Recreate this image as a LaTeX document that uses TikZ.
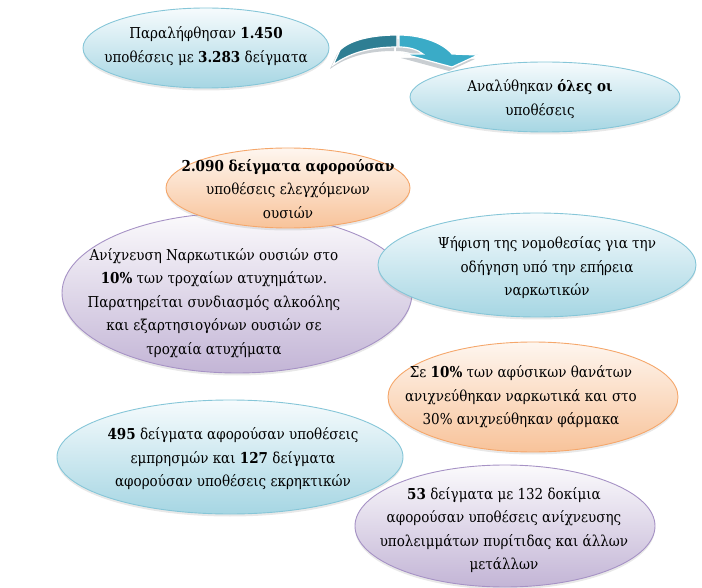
\documentclass[tikz,border=0pt]{standalone}
\usepackage{fontspec}
\setmainfont{DejaVu Serif}[FakeStretch=0.9]
\usetikzlibrary{shapes.geometric,shadows}
\definecolor{cBlueLine}{HTML}{86C6D8}
\definecolor{cBlueTop}{HTML}{F6FBFD}
\definecolor{cBlueMid}{HTML}{DDEFF5}
\definecolor{cBlueBot}{HTML}{A6D6E3}
\definecolor{cOrLine}{HTML}{F5A76B}
\definecolor{cOrTop}{HTML}{FEF6EF}
\definecolor{cOrMid}{HTML}{FCE0CA}
\definecolor{cOrBot}{HTML}{F8C39A}
\definecolor{cPuLine}{HTML}{A692C5}
\definecolor{cPuTop}{HTML}{FBFAFC}
\definecolor{cPuMid}{HTML}{E6E0EE}
\definecolor{cPuBot}{HTML}{C3B5D6}
\definecolor{cArDark}{HTML}{2E7E93}
\definecolor{cArLight}{HTML}{3AABC7}
\definecolor{cArShadow}{HTML}{C9CED2}
\tikzset{
  bub/.style={ellipse, inner sep=0pt, line width=0.9pt,
    drop shadow={shadow xshift=0pt, shadow yshift=-2.5pt, opacity=.18}},
  bblue/.style={bub, draw=cBlueLine, top color=cBlueTop, middle color=cBlueMid, bottom color=cBlueBot},
  borange/.style={bub, draw=cOrLine, top color=cOrTop, middle color=cOrMid, bottom color=cOrBot},
  bpurple/.style={bub, draw=cPuLine, top color=cPuTop, middle color=cPuMid, bottom color=cPuBot},
  txt/.style={align=center, inner sep=0pt, text=black, font=\fontsize{15}{23.5}\selectfont}
}
\begin{document}
\begin{tikzpicture}[x=1pt,y=-1pt]
\useasboundingbox (0,0) rectangle (702,588);
% big ellipses in drawing order
\node[bpurple, minimum width=350pt, minimum height=160pt] (p4) at (237,293) {};
\node[borange, minimum width=244pt, minimum height=80pt] (o3) at (288,188) {};
\node[bblue, minimum width=318pt, minimum height=104pt] (b5) at (537,265) {};
\node[bblue, minimum width=246pt, minimum height=80pt] (b1) at (206,48) {};
\node[bblue, minimum width=270pt, minimum height=70pt] (b2) at (545,97) {};
\node[borange, minimum width=290pt, minimum height=110pt] (o6) at (533,397) {};
\node[bblue, minimum width=346pt, minimum height=114pt] (b7) at (230,457) {};
\node[bpurple, minimum width=300pt, minimum height=122pt] (p8) at (505,526) {};
% curved arrow
\begin{scope}[xshift=-3pt, yshift=-4pt]
\fill[cArShadow] (333,65) .. controls (352,51) and (375,47) .. (397,47)
  -- (397,35) .. controls (372,35) and (350,40) .. (340,50) -- cycle;
\fill[cArShadow] (399,47) .. controls (410,47) and (418,50) .. (423,54)
  -- (404,54) -- (452,67) -- (478,55) -- (452,54)
  .. controls (442,42) and (420,35) .. (399,35) -- cycle;
\end{scope}
\filldraw[fill=cArDark, draw=white, line width=1.2pt] (333,65) .. controls (352,51) and (375,47) .. (397,47)
  -- (397,35) .. controls (372,35) and (350,40) .. (340,50) -- cycle;
\filldraw[fill=cArLight, draw=white, line width=1.2pt] (399,47) .. controls (410,47) and (418,50) .. (423,54)
  -- (404,54) -- (452,67) -- (478,55) -- (452,54)
  .. controls (442,42) and (420,35) .. (399,35) -- cycle;
% texts
\node[txt] (t1) at (206,46) {Παραλήφθησαν \textbf{1.450}\\υποθέσεις με \textbf{3.283} δείγματα};
\node[txt] (t2) at (540,99) {Αναλύθηκαν \textbf{όλες οι}\\υποθέσεις};
\node[txt] (t3) at (288,189) {\textbf{2.090 δείγματα αφορούσαν}\\υποθέσεις ελεγχόμενων\\ουσιών};
\node[txt] (t4) at (214,303) {Ανίχνευση Ναρκωτικών ουσιών στο\\\textbf{10\%} των τροχαίων ατυχημάτων.\\Παρατηρείται συνδιασμός αλκοόλης\\και εξαρτησιογόνων ουσιών σε\\τροχαία ατυχήματα};
\node[txt] (t5) at (547,268) {Ψήφιση της νομοθεσίας για την\\οδήγηση υπό την επήρεια\\ναρκωτικών};
\node[txt] (t6) at (521,397) {Σε \textbf{10\%} των αφύσικων θανάτων\\ανιχνεύθηκαν ναρκωτικά και στο\\30\% ανιχνεύθηκαν φάρμακα};
\node[txt] (t7) at (233,459) {\textbf{495} δείγματα αφορούσαν υποθέσεις\\εμπρησμών και \textbf{127} δείγματα\\αφορούσαν υποθέσεις εκρηκτικών};
\node[txt] (t8) at (504,530) {\textbf{53} δείγματα με 132 δοκίμια\\αφορούσαν υποθέσεις ανίχνευσης\\υπολειμμάτων πυρίτιδας και άλλων\\μετάλλων};
\end{tikzpicture}
\end{document}
